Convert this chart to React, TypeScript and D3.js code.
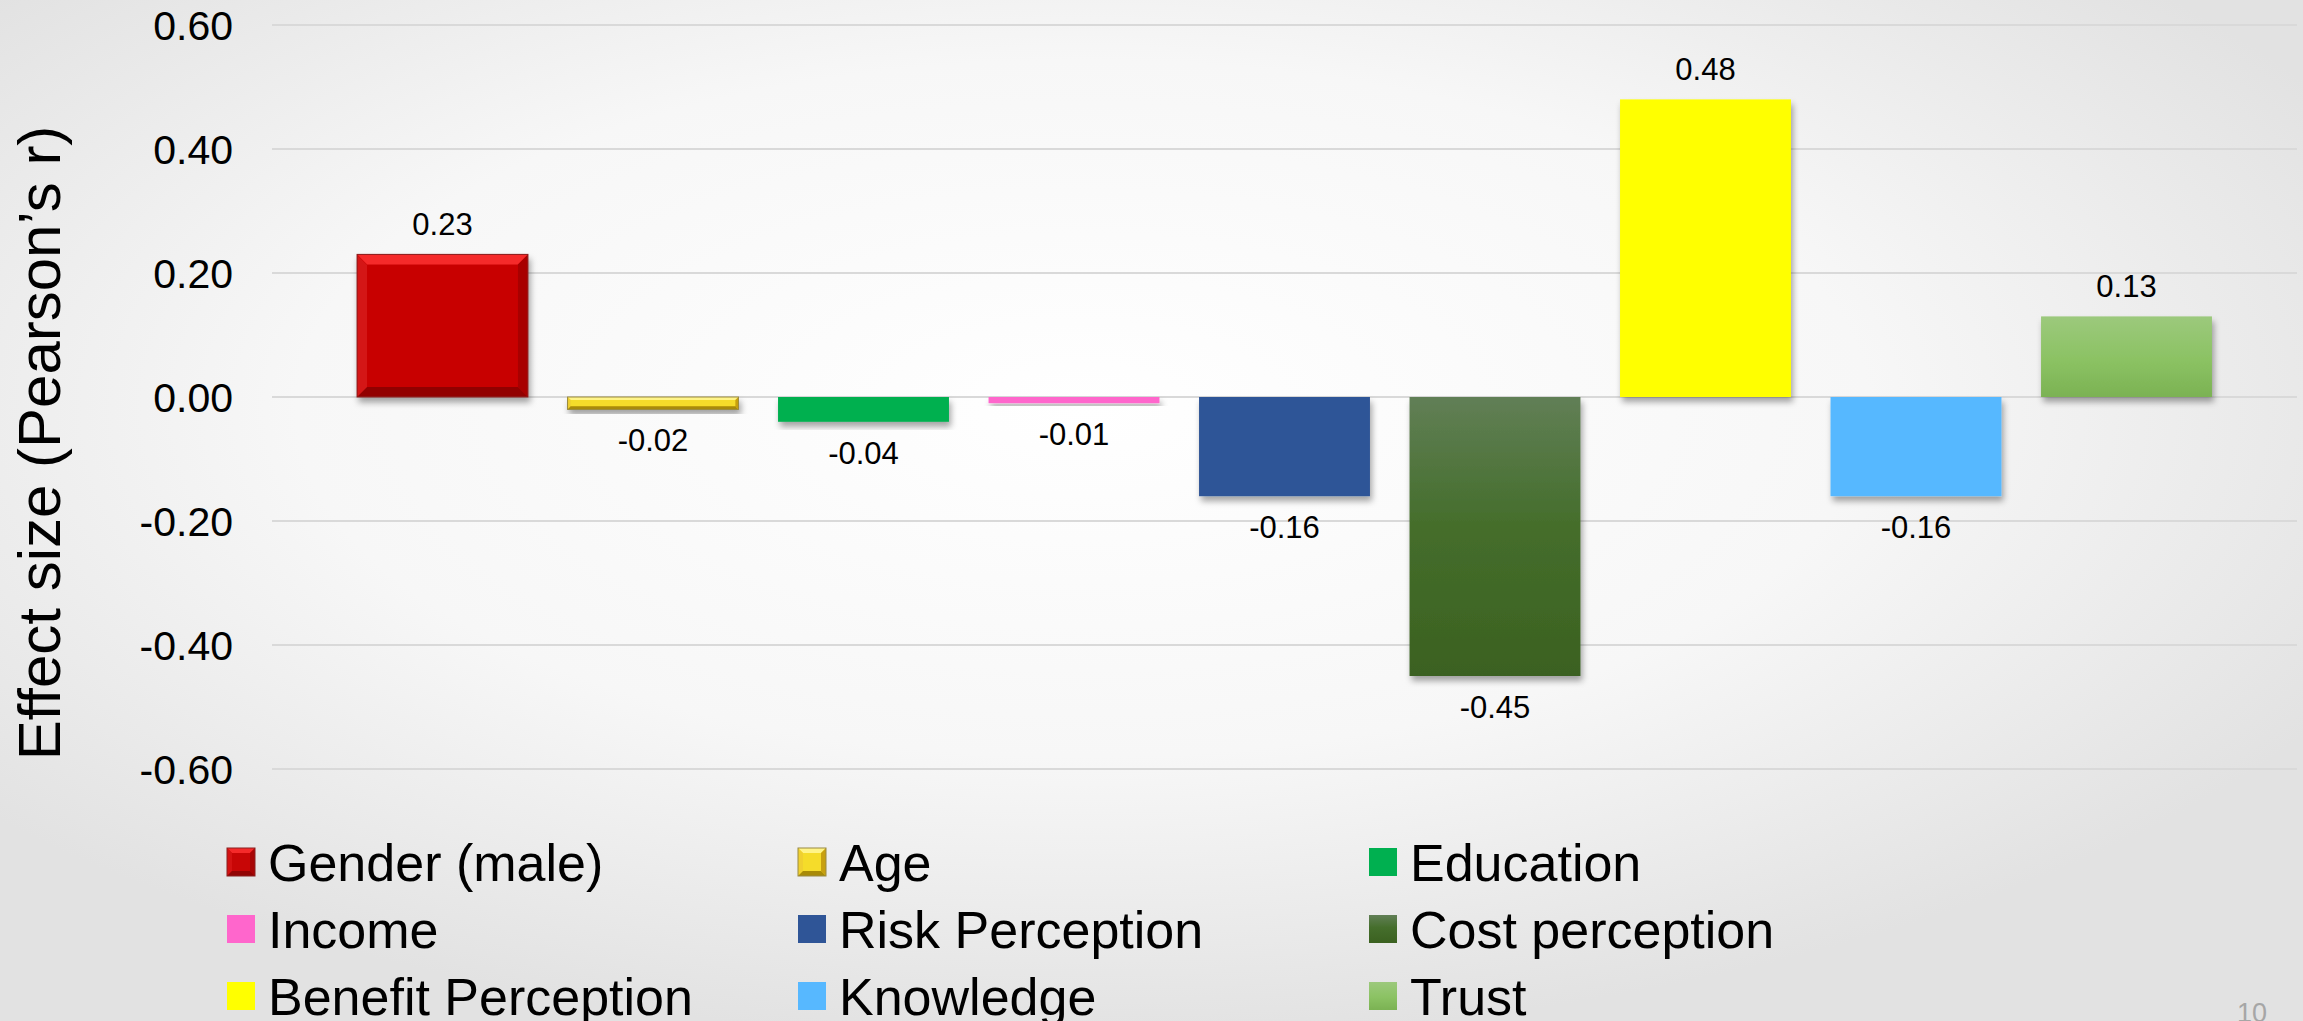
import React, { useEffect, useRef } from 'react';
import * as d3 from 'd3';

const categories = [
  'Gender (male)',
  'Age',
  'Education',
  'Income',
  'Risk Perception',
  'Cost perception',
  'Benefit Perception',
  'Knowledge',
  'Trust'
];
const values = [0.23, -0.02, -0.04, -0.01, -0.16, -0.45, 0.48, -0.16, 0.13];
const yTicks = [0.6, 0.4, 0.2, 0, -0.2, -0.4, -0.6];
const pageNumber = '10';

const W = 2303;
const H = 1021;
const FONT = "'Liberation Sans', Arial, Helvetica, sans-serif";

// fills per category (gradients / bevels defined below)
const fills = [
  '#c80606',
  '#f5dc2a',
  '#00b050',
  '#ff66cc',
  '#2f5597',
  'url(#costGrad)',
  '#ffff00',
  '#57b8ff',
  'url(#trustGrad)'
];
// bevel edge colours: [top, left, right, bottom, outline]
const bevels: any = {
  0: ['#f52a2a', '#d41212', '#a80606', '#920404', '#8a2020'],
  1: ['#fff488', '#f0d030', '#c8a010', '#a88a08', '#9a8a40']
};

// plain hyphen instead of d3's unicode minus
const fmt = (v: number) => d3.format('.2f')(v).replace('\u2212', '-');

const App = () => {
  const svgRef = useRef<SVGSVGElement>(null);

  useEffect(() => {
    const svg = d3.select(svgRef.current).attr('width', W).attr('height', H);
    svg.selectAll('*').remove();

    const defs = svg.append('defs');
    const bg = defs
      .append('radialGradient')
      .attr('id', 'bgGrad')
      .attr('cx', 0.47)
      .attr('cy', 0.4)
      .attr('r', 0.62);
    bg.append('stop').attr('offset', '0%').attr('stop-color', '#ffffff');
    bg.append('stop').attr('offset', '55%').attr('stop-color', '#f7f7f7');
    bg.append('stop').attr('offset', '100%').attr('stop-color', '#e2e2e2');

    const cost = defs
      .append('linearGradient')
      .attr('id', 'costGrad')
      .attr('x1', 0)
      .attr('y1', 0)
      .attr('x2', 0)
      .attr('y2', 1);
    cost.append('stop').attr('offset', '0%').attr('stop-color', '#617f56');
    cost.append('stop').attr('offset', '45%').attr('stop-color', '#456e2c');
    cost.append('stop').attr('offset', '100%').attr('stop-color', '#3b6120');

    const trust = defs
      .append('linearGradient')
      .attr('id', 'trustGrad')
      .attr('x1', 0)
      .attr('y1', 0)
      .attr('x2', 0)
      .attr('y2', 1);
    trust.append('stop').attr('offset', '0%').attr('stop-color', '#9cc97c');
    trust.append('stop').attr('offset', '55%').attr('stop-color', '#8bc263');
    trust.append('stop').attr('offset', '100%').attr('stop-color', '#7bb253');

    const shadow = defs
      .append('filter')
      .attr('id', 'shadow')
      .attr('x', '-10%')
      .attr('y', '-10%')
      .attr('width', '130%')
      .attr('height', '140%');
    shadow
      .append('feDropShadow')
      .attr('dx', 2)
      .attr('dy', 5)
      .attr('stdDeviation', 3)
      .attr('flood-color', '#000')
      .attr('flood-opacity', 0.35);

    // background
    svg.append('rect').attr('width', W).attr('height', H).attr('fill', 'url(#bgGrad)');

    //setting up scales
    const x = d3
      .scaleBand()
      .domain(categories)
      .range([272, 2297])
      .paddingInner(0.188)
      .paddingOuter(0.404);
    const y = d3.scaleLinear().domain([-0.6, 0.6]).range([769, 25]);

    // gridlines
    svg
      .append('g')
      .selectAll('line')
      .data(yTicks)
      .join('line')
      .attr('x1', 272)
      .attr('x2', 2297)
      .attr('y1', (d) => y(d))
      .attr('y2', (d) => y(d))
      .attr('stroke', '#d9d9d9')
      .attr('stroke-width', 2);

    // tick labels
    svg
      .append('g')
      .selectAll('text')
      .data(yTicks)
      .join('text')
      .attr('x', 233)
      .attr('y', (d) => y(d))
      .attr('dy', '0.36em')
      .attr('text-anchor', 'end')
      .style('font-family', FONT)
      .style('font-size', '41px')
      .attr('fill', '#000')
      .text((d) => fmt(d));

    // y-axis title
    svg
      .append('text')
      .attr('transform', `translate(60,${(y(0.6) + y(-0.6)) / 2 + 46}) rotate(-90)`)
      .attr('text-anchor', 'middle')
      .style('font-family', FONT)
      .style('font-size', '60px')
      .attr('fill', '#000')
      .text('Effect size (Pearson\u2019s r)');

    const bevelRect = (g: any, x0: number, y0: number, w: number, h: number, i: number, b: number) => {
      const c = bevels[i];
      const x1 = x0 + w;
      const y1 = y0 + h;
      const poly = (pts: number[][], col: string) =>
        g.append('polygon').attr('points', pts.map((p) => p.join(',')).join(' ')).attr('fill', col);
      poly([[x0, y0], [x1, y0], [x1 - b, y0 + b], [x0 + b, y0 + b]], c[0]);
      poly([[x0, y0], [x0 + b, y0 + b], [x0 + b, y1 - b], [x0, y1]], c[1]);
      poly([[x1, y0], [x1, y1], [x1 - b, y1 - b], [x1 - b, y0 + b]], c[2]);
      poly([[x0, y1], [x0 + b, y1 - b], [x1 - b, y1 - b], [x1, y1]], c[3]);
      g.append('rect')
        .attr('x', x0)
        .attr('y', y0)
        .attr('width', w)
        .attr('height', h)
        .attr('fill', 'none')
        .attr('stroke', c[4])
        .attr('stroke-width', 1);
    };

    //setting up bars
    const bars = svg.append('g');
    categories.forEach((cat, i) => {
      const v = values[i];
      const x0 = x(cat) as number;
      const bw = x.bandwidth();
      const top = Math.min(y(v), y(0));
      const h = Math.abs(y(v) - y(0));
      const g = bars.append('g').attr('filter', 'url(#shadow)');
      g.append('rect').attr('x', x0).attr('y', top).attr('width', bw).attr('height', h).attr('fill', fills[i]);
      if (bevels[i]) bevelRect(g, x0, top, bw, h, i, Math.min(10, h / 4));
    });

    // data labels
    svg
      .append('g')
      .selectAll('text')
      .data(categories)
      .join('text')
      .attr('x', (d) => (x(d) as number) + x.bandwidth() / 2)
      .attr('y', (d, i) => (values[i] >= 0 ? y(values[i]) - 19 : y(values[i]) + 42))
      .attr('text-anchor', 'middle')
      .style('font-family', FONT)
      .style('font-size', '31px')
      .attr('fill', '#000')
      .text((d, i) => fmt(values[i]));

    // legend
    const legend = svg.append('g');
    categories.forEach((cat, i) => {
      const col = i % 3;
      const row = Math.floor(i / 3);
      const lx = 227 + col * 571;
      const cy = 862 + row * 67;
      const g = legend.append('g');
      g.append('rect')
        .attr('x', lx)
        .attr('y', cy - 14)
        .attr('width', 28)
        .attr('height', 28)
        .attr('fill', fills[i]);
      if (bevels[i]) bevelRect(g, lx, cy - 14, 28, 28, i, 5);
      g.append('text')
        .attr('x', lx + 41)
        .attr('y', cy + 19)
        .style('font-family', FONT)
        .style('font-size', '52px')
        .attr('fill', '#000')
        .text(cat);
    });

    // slide number
    svg
      .append('text')
      .attr('x', 2252)
      .attr('y', 1022)
      .attr('text-anchor', 'middle')
      .style('font-family', FONT)
      .style('font-size', '27px')
      .attr('fill', '#a6a6a6')
      .text(pageNumber);
  }, []);

  return (
    <div id="chartArea">
      <svg ref={svgRef} style={{ position: 'absolute', left: 0, top: 0, display: 'block' }}></svg>
    </div>
  );
};

export default App;
